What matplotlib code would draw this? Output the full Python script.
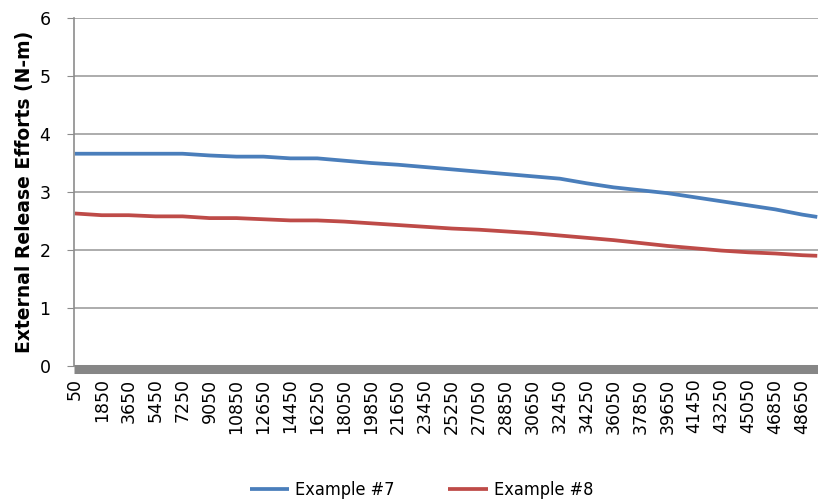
import matplotlib

matplotlib.use("Agg")
import matplotlib.pyplot as plt

# Category labels on the x axis (every 1800 units)
speeds = [50, 1850, 3650, 5450, 7250, 9050, 10850, 12650, 14450, 16250,
          18050, 19850, 21650, 23450, 25250, 27050, 28850, 30650, 32450,
          34250, 36050, 37850, 39650, 41450, 43250, 45050, 46850, 48650, 49650]

# Values at each label position
example_7 = [3.66, 3.66, 3.66, 3.66, 3.66, 3.63, 3.61, 3.61, 3.58, 3.58,
             3.54, 3.50, 3.47, 3.43, 3.39, 3.35, 3.31, 3.27, 3.23,
             3.15, 3.08, 3.03, 2.98, 2.91, 2.84, 2.77, 2.70, 2.61, 2.57]
example_8 = [2.63, 2.60, 2.60, 2.58, 2.58, 2.55, 2.55, 2.53, 2.51, 2.51,
             2.49, 2.46, 2.43, 2.40, 2.37, 2.35, 2.32, 2.29, 2.25,
             2.21, 2.17, 2.12, 2.07, 2.03, 1.99, 1.96, 1.94, 1.91, 1.90]

tick_labels = [str(s) for s in speeds[:-1]]

fig = plt.figure(figsize=(8.18, 5.03), dpi=100)
ax = fig.add_axes([74 / 818, 1 - 366 / 503, 1 - 74 / 818, 348 / 503])

# spine position first: it resets tick settings
for side in ("top", "right"):
    ax.spines[side].set_visible(False)
ax.spines["left"].set_color("#8c8c8c")
ax.spines["left"].set_linewidth(1.2)
ax.spines["bottom"].set_color("#868686")
ax.spines["bottom"].set_linewidth(6.5)
ax.spines["bottom"].set_capstyle("butt")
ax.spines["bottom"].set_position(("outward", 2))

ax.plot(speeds, example_7, color="#4a7ebb", linewidth=2.7, label="Example #7",
        solid_capstyle="butt")
ax.plot(speeds, example_8, color="#be4b48", linewidth=2.7, label="Example #8",
        solid_capstyle="butt")

ax.set_ylim(0, 6)
ax.set_xlim(0, 49700)
ax.set_yticks(range(7))
ax.set_xticks(speeds[:-1])
ax.set_xticklabels(tick_labels, rotation=90, fontsize=12.5, va="top", ha="center")
ax.tick_params(axis="y", labelsize=12.5, length=5, color="#8c8c8c", pad=12)
ax.tick_params(axis="x", length=0, pad=7)

ax.grid(axis="y", color="#a6a6a6", linewidth=1.3)
ax.set_axisbelow(True)

ax.set_ylabel("External Release Efforts (N-m)", fontsize=13.5, fontweight="bold",
              labelpad=4)

fig.legend(loc="center", bbox_to_anchor=(0.515, 0.026), ncol=2, frameon=False,
           handlelength=2.2, handletextpad=0.3, columnspacing=3.0,
           prop={"family": "DejaVu Sans", "stretch": "condensed", "size": 13})

fig.savefig("out.png", dpi=100)
